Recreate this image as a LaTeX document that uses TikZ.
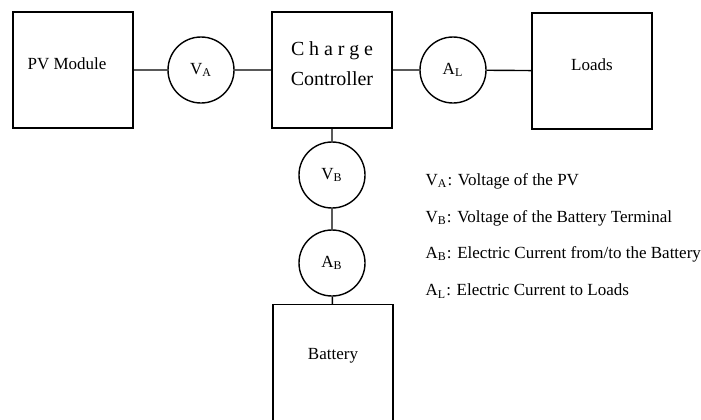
\documentclass[tikz,border=0pt]{standalone}
\usepackage{fontspec}
\setmainfont{Liberation Serif}
\usetikzlibrary{positioning}
\begin{document}
\begin{tikzpicture}[x=0.5pt,y=-0.5pt,line width=0.7pt,font=\fontsize{8.5}{10}\selectfont,
  block/.style={draw,minimum width=60pt,minimum height=58pt,inner sep=0pt,text depth=6.5pt},
  meter/.style={draw,circle,minimum size=33pt,inner sep=0pt},
  legend/.style={anchor=west,inner sep=0pt}]
\useasboundingbox (0,0) rectangle (701,419);
\clip (0,0) rectangle (701,419);
% blocks
\node[block] (pv) at (73,70) {PV Module\hspace*{6pt}};
\node[block,align=center,font=\fontsize{10}{15}\selectfont] (cc) at (332,70)
  {\makebox[41pt][s]{C\hfill h\hfill a\hfill r\hfill g\hfill e}\\Controller};
\node[block] (loads) at (592,71) {Loads};
\node[block,minimum height=65pt,anchor=north,text depth=0pt] (bat) at (333,304) {};
\node (battxt) at (333,356) {Battery};
% meters
\node[meter] (va) at (201,70) {V\textsubscript{A}};
\node[meter] (al) at (453,70) {A\textsubscript{L}};
\node[meter] (vb) at (332,175) {V\textsubscript{B}};
\node[meter] (ab) at (332,263) {A\textsubscript{B}};
% wires
\draw (pv) -- (va) -- (cc) -- (al) -- (loads);
\draw (cc) -- (vb) -- (ab) -- (bat);
% legend
\node[legend] (leg1) at (425,181) {V\textsubscript{A}: Voltage of the PV};
\node[legend] (leg2) at (425,218) {V\textsubscript{B}: Voltage of the Battery Terminal};
\node[legend] (leg3) at (425,254) {A\textsubscript{B}: Electric Current from/to the Battery};
\node[legend] (leg4) at (425,291) {A\textsubscript{L}: Electric Current to Loads};
\end{tikzpicture}
\end{document}
